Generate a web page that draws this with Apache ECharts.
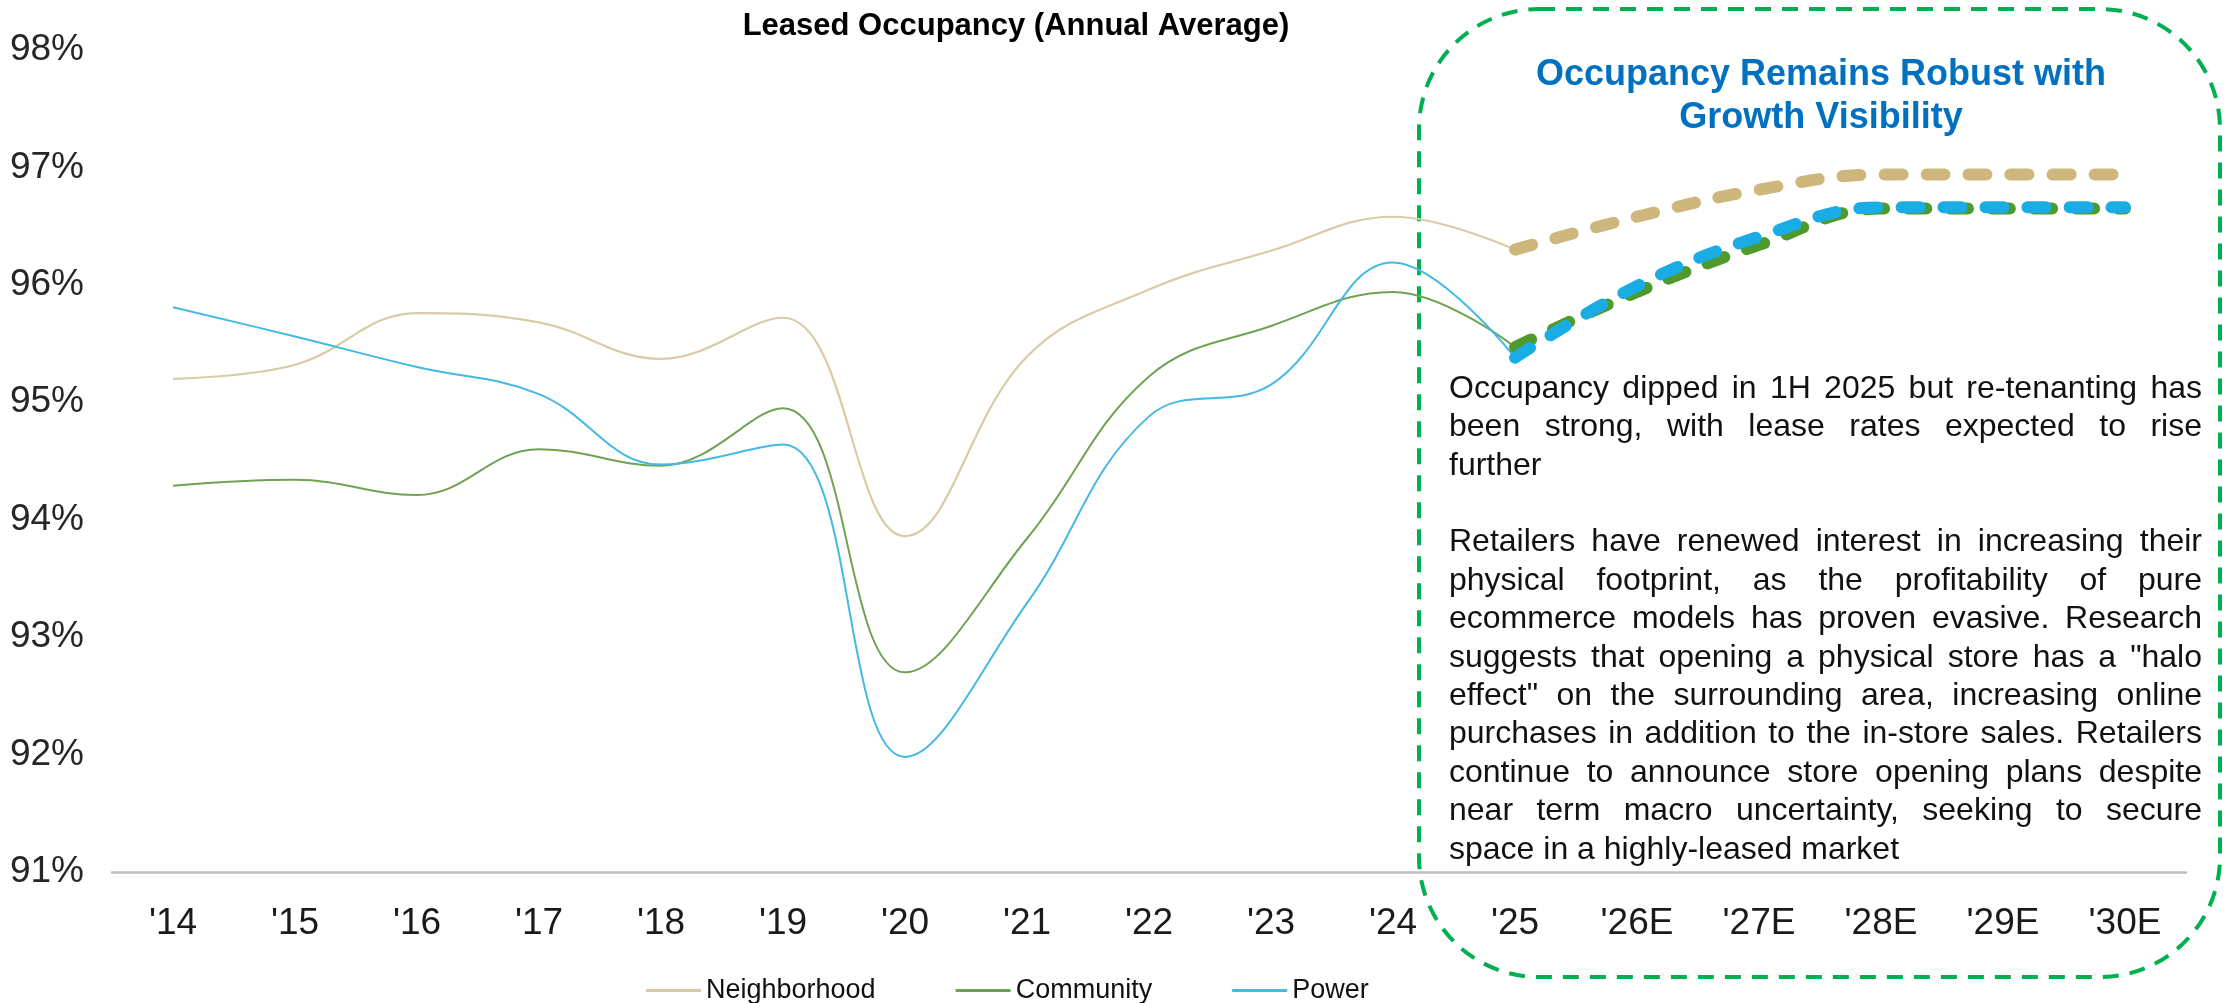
<!DOCTYPE html>
<html>
<head>
<meta charset="utf-8">
<title>Leased Occupancy</title>
<script src="https://cdn.jsdelivr.net/npm/echarts@6/dist/echarts.min.js"></script>
<style>
  html, body { margin: 0; padding: 0; background: #fff; }
  #chart { width: 2226px; height: 1003px; }
</style>
</head>
<body>
<div id="chart"></div>
<script>
// years on the x axis, forecast years marked with E
var categories = ["'14", "'15", "'16", "'17", "'18", "'19", "'20", "'21", "'22", "'23", "'24", "'25", "'26E", "'27E", "'28E", "'29E", "'30E"];

// actuals '14 - '25 (%)
var neighborhood = [95.20, 95.32, 95.76, 95.68, 95.37, 95.72, 93.86, 95.39, 95.96, 96.29, 96.58, 96.30];
var community = [94.29, 94.34, 94.21, 94.60, 94.46, 94.95, 92.70, 93.84, 95.22, 95.65, 95.94, 95.47];
var power = [95.81, 95.56, 95.30, 95.07, 94.47, 94.64, 91.98, 93.29, 94.88, 95.15, 96.19, 95.38];

// outlook '25 - '30E (%)
var neighborhoodEst = [96.30, 96.58, 96.81, 96.94, 96.94, 96.94];
var communityEst = [95.47, 95.94, 96.34, 96.65, 96.65, 96.65];
var powerEst = [95.38, 95.99, 96.41, 96.66, 96.66, 96.66];

var yTicks = [91, 92, 93, 94, 95, 96, 97, 98];

var boxTitle = ['Occupancy Remains Robust with', 'Growth Visibility'];
var paragraphs = [
    [
        'Occupancy dipped in 1H 2025 but re-tenanting has',
        'been strong, with lease rates expected to rise',
        'further'
    ],
    [
        'Retailers have renewed interest in increasing their',
        'physical footprint, as the profitability of pure',
        'ecommerce models has proven evasive.  Research',
        'suggests that opening a physical store has a "halo',
        'effect" on the surrounding area, increasing online',
        'purchases in addition to the in-store sales. Retailers',
        'continue to announce store opening plans despite',
        'near term macro uncertainty, seeking to secure',
        'space in a highly-leased market'
    ]
];

var FONT = '"Liberation Sans", Arial, sans-serif';

// pad the outlook arrays so they line up with the last years
function padEst(arr) {
    var out = [];
    for (var i = 0; i < categories.length - arr.length; i++) out.push(null);
    return out.concat(arr);
}

// justified paragraph text, one text element per word
var measure = document.createElement('canvas').getContext('2d');
function bodyText() {
    var size = 32, left = 1449, right = 2202, lineH = 38.4;
    var els = [];
    measure.font = size + 'px ' + FONT;
    var space = measure.measureText(' ').width;
    var y = 389;
    paragraphs.forEach(function (lines) {
        lines.forEach(function (line, li) {
            var words = line.split(/\s+/);
            var widths = words.map(function (w) { return measure.measureText(w).width; });
            var total = widths.reduce(function (a, b) { return a + b; }, 0);
            var last = li === lines.length - 1;
            var gap = (last || words.length < 2) ? space : (right - left - total) / (words.length - 1);
            var x = left;
            words.forEach(function (w, wi) {
                els.push({
                    type: 'text', x: x, y: y, silent: true,
                    style: { text: w, fill: '#111', font: size + 'px ' + FONT, textVerticalAlign: 'middle' }
                });
                x += widths[wi] + gap;
            });
            y += lineH;
        });
        y += lineH;
    });
    return els;
}

var myChart = echarts.init(document.getElementById('chart'));

var option = {
    animation: false,
    backgroundColor: '#fff',
    title: {
        text: 'Leased Occupancy (Annual Average)',
        left: 1011,
        top: 6,
        textAlign: 'center',
        textStyle: { fontFamily: FONT, fontSize: 31, fontWeight: 'bold', color: '#000' }
    },
    legend: {
        data: ['Neighborhood', 'Community', 'Power'],
        left: 641,
        top: 972,
        icon: 'rect',
        itemWidth: 55,
        itemHeight: 3,
        itemGap: 80,
        textStyle: { fontFamily: FONT, fontSize: 27, color: '#111' }
    },
    grid: { left: 112, right: 40, top: 50, bottom: 131 },
    xAxis: {
        type: 'category',
        data: categories,
        boundaryGap: true,
        axisLine: { lineStyle: { color: '#BFBFBF', width: 2.5 } },
        axisTick: { show: false },
        axisLabel: { fontFamily: FONT, fontSize: 37, color: '#1a1a1a', margin: 33 }
    },
    yAxis: {
        type: 'value',
        min: yTicks[0],
        max: yTicks[yTicks.length - 1],
        interval: 1,
        axisLine: { show: false },
        axisTick: { show: false },
        splitLine: { show: false },
        axisLabel: { fontFamily: FONT, fontSize: 37, color: '#262626', margin: 28, formatter: '{value}%' }
    },
    series: [
        {
            name: 'Neighborhood', type: 'line', data: neighborhood, smooth: 0.4, symbol: 'none',
            color: '#D8CBA5', lineStyle: { width: 2.2 }
        },
        {
            name: 'Community', type: 'line', data: community, smooth: 0.4, symbol: 'none',
            color: '#6FA352', lineStyle: { width: 2 }
        },
        {
            name: 'Power', type: 'line', data: power, smooth: 0.4, symbol: 'none',
            color: '#45B9E5', lineStyle: { width: 2 }
        },
        {
            name: 'Neighborhood E', type: 'line', data: padEst(neighborhoodEst), smooth: 0.4, symbol: 'none',
            color: '#CDB77C', lineStyle: { width: 12, type: [18, 24], cap: 'round' }
        },
        {
            name: 'Community E', type: 'line', data: padEst(communityEst), smooth: 0.4, symbol: 'none',
            color: '#4F9A2C', lineStyle: { width: 12, type: [18, 24], cap: 'round' }
        },
        {
            name: 'Power E', type: 'line', data: padEst(powerEst), smooth: 0.4, symbol: 'none',
            color: '#1AADE5', lineStyle: { width: 12, type: [18, 24], cap: 'round' }
        }
    ],
    graphic: [
        {
            type: 'rect', silent: true,
            shape: { x: 1419, y: 9, width: 801, height: 968, r: 120 },
            style: { fill: 'none', stroke: '#00B050', lineWidth: 4, lineDash: [16, 11] }
        },
        {
            type: 'text', x: 1821, y: 75, silent: true,
            style: { text: boxTitle[0], fill: '#0070C0', font: 'bold 36px ' + FONT, textAlign: 'center', textVerticalAlign: 'middle' }
        },
        {
            type: 'text', x: 1821, y: 118, silent: true,
            style: { text: boxTitle[1], fill: '#0070C0', font: 'bold 36px ' + FONT, textAlign: 'center', textVerticalAlign: 'middle' }
        }
    ].concat(bodyText())
};

myChart.setOption(option);
</script>
</body>
</html>
